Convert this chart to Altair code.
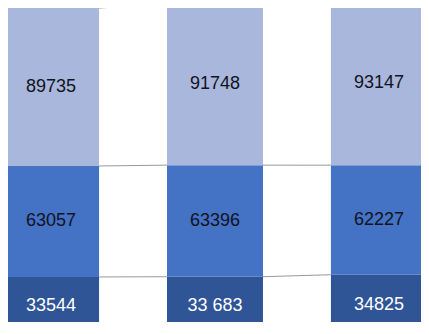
import altair as alt
import pandas as pd

columns = [0, 1, 2]
series = ["bottom", "middle", "top"]
bottom_vals = [33544, 33683, 34825]
middle_vals = [63057, 63396, 62227]
top_vals = [89735, 91748, 93147]
bottom_labels = ["33544", "33 683", "34825"]
middle_labels = ["63057", "63396", "62227"]
top_labels = ["89735", "91748", "93147"]

colors = ["#2f5597", "#4472c4", "#a9b7dc"]
text_colors = ["#ffffff", "#111320", "#111320"]

rows = []
for i, c in enumerate(columns):
    start = 0
    for s, vals, labs in zip(series, [bottom_vals, middle_vals, top_vals],
                             [bottom_labels, middle_labels, top_labels]):
        v = vals[i]
        rows.append({"col": c, "series": s, "start": start, "end": start + v,
                     "mid": start + v / 2, "label": labs[i]})
        start += v
bars = pd.DataFrame(rows)

lines = []
for s in series:
    sub = bars[bars.series == s].sort_values("col")
    ends = list(sub["end"])
    cols = list(sub["col"])
    for i in range(len(cols) - 1):
        lines.append({"x": cols[i], "x2": cols[i + 1], "y": ends[i], "y2": ends[i + 1]})
lines = pd.DataFrame(lines)

W, H = 413, 314
PX = 0.00176  # pixels per unit
xscale = alt.Scale(domain=[-39 / 168, (W - 39) / 168], nice=False, zero=False)
yscale = alt.Scale(domain=[(328 - H) / PX, 328 / PX], nice=False, zero=False)

bar = alt.Chart(bars).mark_bar(width=96, clip=True).encode(
    x=alt.X("col:Q", scale=xscale, axis=None),
    y=alt.Y("start:Q", scale=yscale, axis=None),
    y2="end:Q",
    color=alt.Color("series:N", scale=alt.Scale(domain=series, range=colors), legend=None),
)

rule = alt.Chart(lines).mark_rule(clip=True, color="#9a9a9a", strokeWidth=1,
                                  xOffset=48, x2Offset=-48).encode(
    x=alt.X("x:Q", scale=xscale, axis=None),
    x2="x2:Q",
    y=alt.Y("y:Q", scale=yscale, axis=None),
    y2="y2:Q",
)

text = alt.Chart(bars).mark_text(font="Liberation Sans", fontSize=18, clip=True).encode(
    x=alt.X("col:Q", scale=xscale, axis=None),
    y=alt.Y("mid:Q", scale=yscale, axis=None),
    text="label:N",
    color=alt.Color("series:N", scale=alt.Scale(domain=series, range=text_colors), legend=None),
)

chart = alt.layer(bar, rule, text).resolve_scale(color="independent").properties(
    width=W, height=H, autosize=alt.AutoSizeParams(type="none"), padding=0
).configure_view(stroke=None)

chart.save("out.html", embed_options={"renderer": "svg", "actions": False})
